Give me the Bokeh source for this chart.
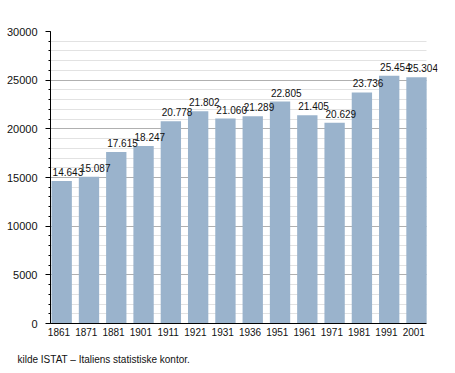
from bokeh.plotting import figure
from bokeh.models import (ColumnDataSource, SingleIntervalTicker, FixedTicker, Title,
                          LabelSet, Range1d)
from bokeh.core.properties import value
from bokeh.embed import file_html
from bokeh.resources import INLINE

years = ["1861", "1871", "1881", "1901", "1911", "1921", "1931", "1936",
         "1951", "1961", "1971", "1981", "1991", "2001"]
population = [14643, 15087, 17615, 18247, 20778, 21802, 21060, 21289,
              22805, 21405, 20629, 23736, 25454, 25304]
value_labels = ["14.643", "15.087", "17.615", "18.247", "20.778", "21.802", "21.060", "21.289",
                "22.805", "21.405", "20.629", "23.736", "25.454", "25.304"]
source_note = "kilde ISTAT – Italiens statistiske kontor."

FONT = "Liberation Sans"
SHIFT = 0.1     # bar centre offset from the category tick
BAR_W = 0.745
positions = list(range(len(years)))
bar_x = [i + SHIFT for i in positions]
label_x = [i + SHIFT - BAR_W / 2 + 0.04 for i in positions]

src = ColumnDataSource(dict(x=bar_x, lx=label_x, y=population, lbl=value_labels))

x_start = -0.31
x_end = 13.87
data_end = positions[-1] + SHIFT + BAR_W / 2

p = figure(x_range=Range1d(x_start, x_end), y_range=Range1d(0, 30000), width=455, height=373,
           output_backend="svg", toolbar_location=None,
           min_border_left=50, min_border_right=18, min_border_top=31, min_border_bottom=49)
p.outline_line_color = None
p.background_fill_color = "white"

p.vbar(x="x", top="y", width=BAR_W, source=src, fill_color="#9ab3cc", line_color=None)

labels = LabelSet(x="lx", y="y", text="lbl", source=src,
                  text_align="left", text_baseline="alphabetic", y_offset=5,
                  text_font=value(FONT), text_font_size=value("10px"), text_color="#111111")
p.add_layout(labels)

p.yaxis.ticker = SingleIntervalTicker(interval=5000, num_minor_ticks=5)
p.ygrid.grid_line_color = "#b0b0b0"
p.ygrid.minor_grid_line_color = "#e2e2e2"
p.ygrid.level = "underlay"
p.ygrid.cross_bounds = (x_start, data_end)
p.xgrid.grid_line_color = None

p.yaxis.axis_line_color = "black"
p.yaxis.major_tick_out = 5
p.yaxis.major_tick_in = 0
p.yaxis.minor_tick_out = 2
p.yaxis.minor_tick_in = 0
p.yaxis.major_tick_line_color = "black"
p.yaxis.minor_tick_line_color = "black"
p.yaxis.major_label_text_font = FONT
p.yaxis.major_label_text_font_size = "11px"
p.yaxis.major_label_text_color = "#111111"
p.yaxis.major_label_standoff = 8
p.yaxis[0].formatter.use_scientific = False

p.xaxis.ticker = FixedTicker(ticks=positions, minor_ticks=[])
p.xaxis.major_label_overrides = {i: y for i, y in zip(positions, years)}
p.xaxis.bounds = (x_start, data_end)
p.xaxis.axis_line_color = "black"
p.xaxis.major_tick_line_color = None
p.xaxis.major_tick_out = 0
p.xaxis.major_tick_in = 0
p.xaxis.minor_tick_line_color = None
p.xaxis.major_label_text_font = FONT
p.xaxis.major_label_text_font_size = "10px"
p.xaxis.major_label_text_color = "#111111"
p.xaxis.major_label_standoff = 4
p.xaxis.axis_label = " "
p.xaxis.axis_label_text_font_size = "1px"
p.xaxis.axis_label_standoff = 5

note = Title(text=source_note, align="left", vertical_align="top", text_font=FONT,
             text_font_size="10px", text_font_style="normal", text_color="#111111",
             offset=-33, standoff=13)
p.add_layout(note, "below")

open("out.html", "w").write(file_html(p, INLINE))
